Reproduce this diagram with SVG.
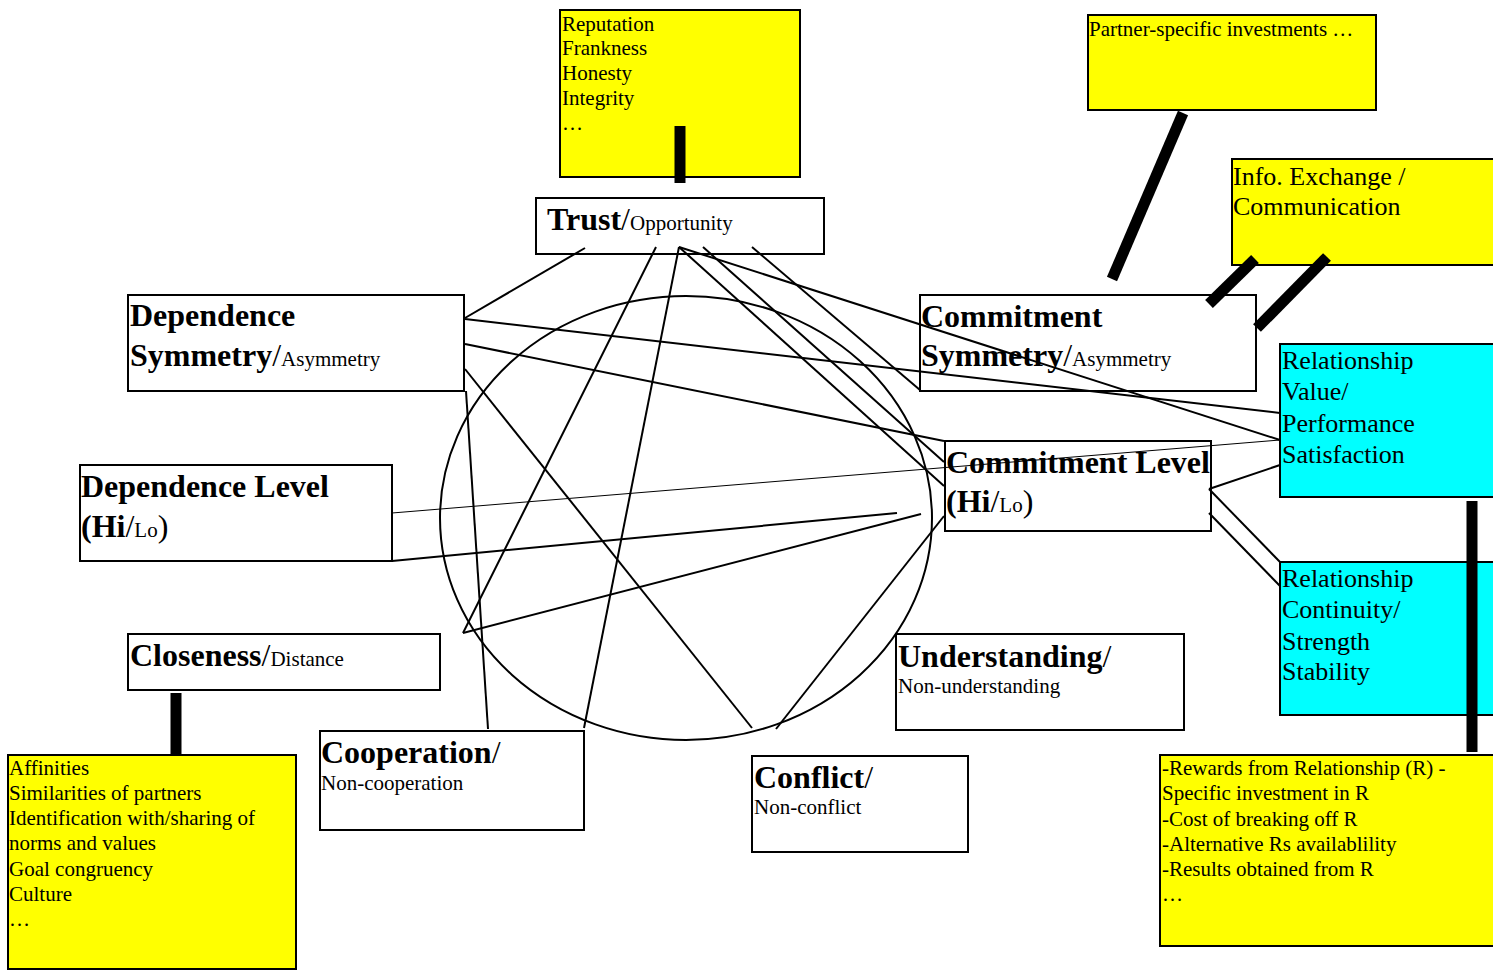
<svg xmlns="http://www.w3.org/2000/svg" width="1493" height="970" viewBox="0 0 1493 970">
<style>
.box{fill:#fff;stroke:#000;stroke-width:2}
.yel{fill:#ffff00;stroke:#000;stroke-width:2}
.cyan{fill:#00ffff;stroke:#000;stroke-width:2}
text{font-family:"Liberation Serif","Times New Roman",serif;fill:#000}
.b{font-size:32px;font-weight:bold}
.r{font-size:32px;font-weight:normal}
.s{font-size:21px;font-weight:normal}
.y{font-size:21px}
.c{font-size:26px}
.ln{stroke:#000;stroke-width:2;fill:none}
.thin{stroke:#000;stroke-width:1;fill:none}
.bar{stroke:#000;stroke-width:11;fill:none}
</style>
<rect width="1493" height="970" fill="#fff"/>
<g id="trust-attrs">
<rect class="yel" x="560" y="10" width="240" height="167"/>
<text class="y" x="562" y="31">Reputation</text>
<text class="y" x="562" y="55">Frankness</text>
<text class="y" x="562" y="80">Honesty</text>
<text class="y" x="562" y="105">Integrity</text>
<text class="y" x="562" y="130">…</text>
</g>
<g id="partner-investments">
<rect class="yel" x="1088" y="15" width="288" height="95"/>
<text class="y" x="1089" y="36">Partner-specific investments …</text>
</g>
<g id="info-exchange">
<rect class="yel" x="1232" y="159" width="270" height="106"/>
<text class="c" x="1233" y="185">Info. Exchange /</text>
<text class="c" x="1233" y="215">Communication</text>
</g>
<g id="trust">
<rect class="box" x="536" y="198" width="288" height="56"/>
<text x="547" y="230"><tspan class="b">Trust</tspan><tspan class="r">/</tspan><tspan class="s">Opportunity</tspan></text>
</g>
<g id="dependence-symmetry">
<rect class="box" x="128" y="295" width="336" height="96"/>
<text class="b" x="130" y="326">Dependence</text>
<text x="130" y="366"><tspan class="b">Symmetry</tspan><tspan class="r">/</tspan><tspan class="s">Asymmetry</tspan></text>
</g>
<g id="commitment-symmetry">
<rect class="box" x="920" y="295" width="336" height="96"/>
<text class="b" x="921" y="327">Commitment</text>
<text x="921" y="366"><tspan class="b">Symmetry</tspan><tspan class="r">/</tspan><tspan class="s">Asymmetry</tspan></text>
</g>
<g id="dependence-level">
<rect class="box" x="80" y="465" width="312" height="96"/>
<text class="b" x="81" y="497">Dependence Level</text>
<text x="81" y="537"><tspan class="b">(Hi</tspan><tspan class="r">/</tspan><tspan class="s">Lo</tspan><tspan class="r">)</tspan></text>
</g>
<g id="commitment-level">
<rect class="box" x="945" y="441" width="266" height="90"/>
<text class="b" x="946" y="473">Commitment Level</text>
<text x="946" y="512"><tspan class="b">(Hi</tspan><tspan class="r">/</tspan><tspan class="s">Lo</tspan><tspan class="r">)</tspan></text>
</g>
<g id="relationship-value">
<rect class="cyan" x="1280" y="344" width="222" height="153"/>
<text class="c" x="1282" y="369">Relationship</text>
<text class="c" x="1282" y="400">Value/</text>
<text class="c" x="1282" y="432">Performance</text>
<text class="c" x="1282" y="463">Satisfaction</text>
</g>
<g id="relationship-continuity">
<rect class="cyan" x="1280" y="562" width="222" height="153"/>
<text class="c" x="1282" y="587">Relationship</text>
<text class="c" x="1282" y="618">Continuity/</text>
<text class="c" x="1282" y="650">Strength</text>
<text class="c" x="1282" y="680">Stability</text>
</g>
<g id="closeness">
<rect class="box" x="128" y="634" width="312" height="56"/>
<text x="130" y="666"><tspan class="b">Closeness</tspan><tspan class="r">/</tspan><tspan class="s">Distance</tspan></text>
</g>
<g id="understanding">
<rect class="box" x="896" y="634" width="288" height="96"/>
<text x="898" y="667"><tspan class="b">Understanding</tspan><tspan class="r">/</tspan></text>
<text class="s" x="898" y="693">Non-understanding</text>
</g>
<g id="cooperation">
<rect class="box" x="320" y="731" width="264" height="99"/>
<text x="321" y="763"><tspan class="b">Cooperation</tspan><tspan class="r">/</tspan></text>
<text class="s" x="321" y="790">Non-cooperation</text>
</g>
<g id="conflict">
<rect class="box" x="752" y="756" width="216" height="96"/>
<text x="754" y="788"><tspan class="b">Conflict</tspan><tspan class="r">/</tspan></text>
<text class="s" x="754" y="814">Non-conflict</text>
</g>
<g id="closeness-attrs">
<rect class="yel" x="8" y="755" width="288" height="214"/>
<text class="y" x="9" y="775">Affinities</text>
<text class="y" x="9" y="800">Similarities of partners</text>
<text class="y" x="9" y="825">Identification with/sharing of</text>
<text class="y" x="9" y="850">norms and values</text>
<text class="y" x="9" y="876">Goal congruency</text>
<text class="y" x="9" y="901">Culture</text>
<text class="y" x="9" y="926">…</text>
</g>
<g id="rewards">
<rect class="yel" x="1160" y="755" width="342" height="191"/>
<text class="y" x="1162" y="775">-Rewards from Relationship (R) -</text>
<text class="y" x="1162" y="800">Specific investment in R</text>
<text class="y" x="1162" y="826">-Cost of breaking off R</text>
<text class="y" x="1162" y="851">-Alternative Rs availablility</text>
<text class="y" x="1162" y="876">-Results obtained from R</text>
<text class="y" x="1162" y="901">…</text>
</g>
<g id="connectors">
<ellipse class="ln" cx="686" cy="518" rx="246" ry="222"/>
<line class="ln" x1="585" y1="248" x2="465" y2="318"/>
<line class="ln" x1="656" y1="247" x2="463" y2="633"/>
<line class="ln" x1="679" y1="247" x2="584" y2="728"/>
<line class="ln" x1="679" y1="247" x2="1280" y2="440"/>
<line class="ln" x1="679" y1="247" x2="944" y2="486"/>
<line class="ln" x1="703" y1="247" x2="944" y2="462"/>
<line class="ln" x1="752" y1="247" x2="920" y2="390"/>
<line class="ln" x1="465" y1="319" x2="1280" y2="413"/>
<line class="ln" x1="465" y1="344" x2="944" y2="441"/>
<line class="ln" x1="465" y1="369" x2="752" y2="728"/>
<line class="ln" x1="466" y1="391" x2="488" y2="729"/>
<line class="thin" x1="392" y1="513" x2="1280" y2="440"/>
<line class="ln" x1="392" y1="561" x2="897" y2="513"/>
<line class="ln" x1="463" y1="633" x2="921" y2="514"/>
<line class="ln" x1="944" y1="516" x2="776" y2="729"/>
<line class="ln" x1="1209" y1="489" x2="1280" y2="465"/>
<line class="ln" x1="1209" y1="489" x2="1280" y2="562"/>
<line class="ln" x1="1209" y1="513" x2="1280" y2="586"/>
<line class="bar" x1="680" y1="126" x2="680" y2="183"/>
<line class="bar" x1="1183" y1="113" x2="1112" y2="279"/>
<line class="bar" x1="1255" y1="259" x2="1209" y2="304"/>
<line class="bar" x1="1327" y1="257" x2="1257" y2="328"/>
<line class="bar" x1="1472" y1="501" x2="1472" y2="752"/>
<line class="bar" x1="176" y1="693" x2="176" y2="754"/>
</g>
</svg>
